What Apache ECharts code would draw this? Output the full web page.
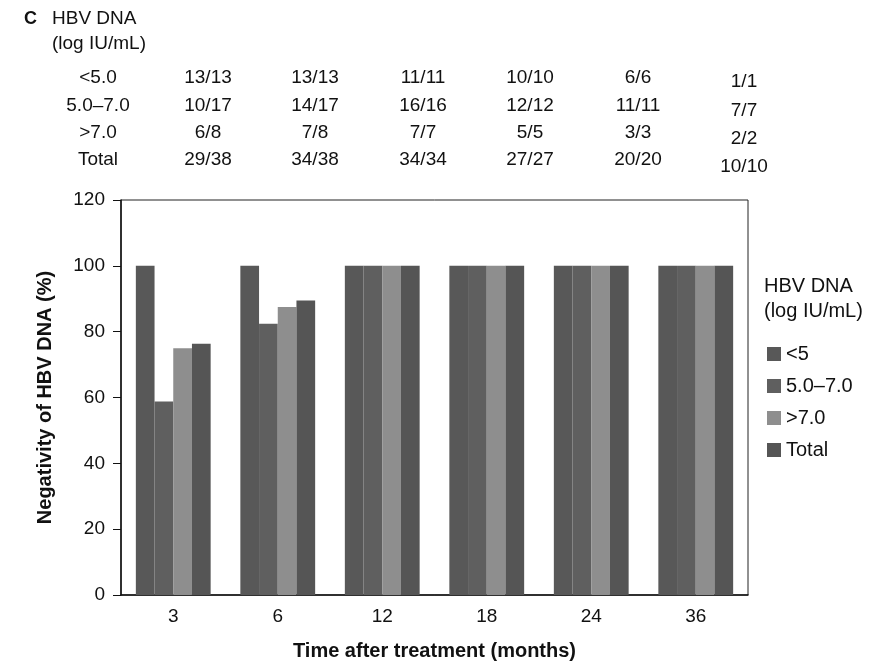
<!DOCTYPE html>
<html>
<head>
<meta charset="utf-8">
<script src="https://cdn.jsdelivr.net/npm/echarts@6/dist/echarts.min.js"></script>
<style>
  html, body { margin: 0; padding: 0; background: #fff; }
  #container { width: 871px; height: 663px; }
</style>
</head>
<body>
<div id="container"></div>
<script>
var months = ['3', '6', '12', '18', '24', '36'];
var seriesNames = ['<5', '5.0\u20137.0', '>7.0', 'Total'];
// negativity percentages
var lt5 = [100, 100, 100, 100, 100, 100];
var mid = [58.8, 82.4, 100, 100, 100, 100];
var gt7 = [75, 87.5, 100, 100, 100, 100];
var total = [76.3, 89.5, 100, 100, 100, 100];
var barColors = ['#585858', '#5f5f5f', '#8e8e8e', '#555555'];

// counts table above the chart
var rowLabels = ['<5.0', '5.0\u20137.0', '>7.0', 'Total'];
var tableRows = [
    ['13/13', '13/13', '11/11', '10/10', '6/6', '1/1'],
    ['10/17', '14/17', '16/16', '12/12', '11/11', '7/7'],
    ['6/8', '7/8', '7/7', '5/5', '3/3', '2/2'],
    ['29/38', '34/38', '34/34', '27/27', '20/20', '10/10']
];
var colX = [208, 315, 423, 530, 638, 744];
var rowY = [78, 106, 133, 160];
var lastColY = [82, 111, 139, 167];

var dom = document.getElementById('container');
var myChart = echarts.init(dom);
var font = 'Liberation Sans, Arial, sans-serif';

var graphics = [
    { type: 'text', left: 24, top: 10, style: { text: 'C', font: 'bold 18px ' + font, fill: '#111' } },
    { type: 'text', left: 52, top: 9, style: { text: 'HBV DNA', font: '19px ' + font, fill: '#111' } },
    { type: 'text', left: 52, top: 34, style: { text: '(log IU/mL)', font: '19px ' + font, fill: '#111' } },
    { type: 'text', left: 764, top: 276, style: { text: 'HBV DNA', font: '20px ' + font, fill: '#111' } },
    { type: 'text', left: 764, top: 301, style: { text: '(log IU/mL)', font: '20px ' + font, fill: '#111' } }
];
for (var r = 0; r < rowLabels.length; r++) {
    graphics.push({
        type: 'text', x: 98, y: rowY[r],
        style: { text: rowLabels[r], font: '19px ' + font, fill: '#111', align: 'center', verticalAlign: 'middle' }
    });
    for (var c = 0; c < months.length; c++) {
        graphics.push({
            type: 'text', x: colX[c], y: c === 5 ? lastColY[r] : rowY[r],
            style: { text: tableRows[r][c], font: '19px ' + font, fill: '#111', align: 'center', verticalAlign: 'middle' }
        });
    }
}

var seriesData = [lt5, mid, gt7, total];
var series = [];
for (var i = 0; i < seriesNames.length; i++) {
    series.push({
        name: seriesNames[i],
        type: 'bar',
        data: seriesData[i],
        barWidth: 18.7,
        barGap: '0%',
        itemStyle: { color: barColors[i] }
    });
}

var option = {
    animation: false,
    backgroundColor: '#fff',
    textStyle: { fontFamily: font },
    grid: {
        left: 121, right: 123, top: 200, bottom: 68,
        containLabel: false, outerBoundsMode: 'none',
        show: true, borderColor: '#222', borderWidth: 1
    },
    legend: {
        orient: 'vertical',
        left: 762,
        top: 339,
        itemWidth: 14,
        itemHeight: 14,
        itemGap: 12,
        icon: 'rect',
        data: seriesNames,
        textStyle: { fontSize: 20, color: '#111', fontFamily: font }
    },
    xAxis: {
        type: 'category',
        data: months,
        name: 'Time after treatment (months)',
        nameLocation: 'middle',
        nameGap: 46,
        nameTextStyle: { fontSize: 20, fontWeight: 'bold', color: '#111' },
        axisLine: { lineStyle: { color: '#111', width: 1.5 } },
        axisTick: { show: false },
        axisLabel: { fontSize: 19, color: '#111', margin: 12 }
    },
    yAxis: {
        type: 'value',
        min: 0,
        max: 120,
        interval: 20,
        name: 'Negativity of HBV DNA (%)',
        nameLocation: 'middle',
        nameGap: 66,
        nameTextStyle: { fontSize: 20, fontWeight: 'bold', color: '#111' },
        axisLine: { show: true, lineStyle: { color: '#111', width: 1.5 } },
        axisTick: { show: true, inside: false, length: 8, lineStyle: { color: '#111' } },
        axisLabel: { fontSize: 19, color: '#111', margin: 16 },
        splitLine: { show: false }
    },
    graphic: graphics,
    series: series
};

myChart.setOption(option);
</script>
</body>
</html>
